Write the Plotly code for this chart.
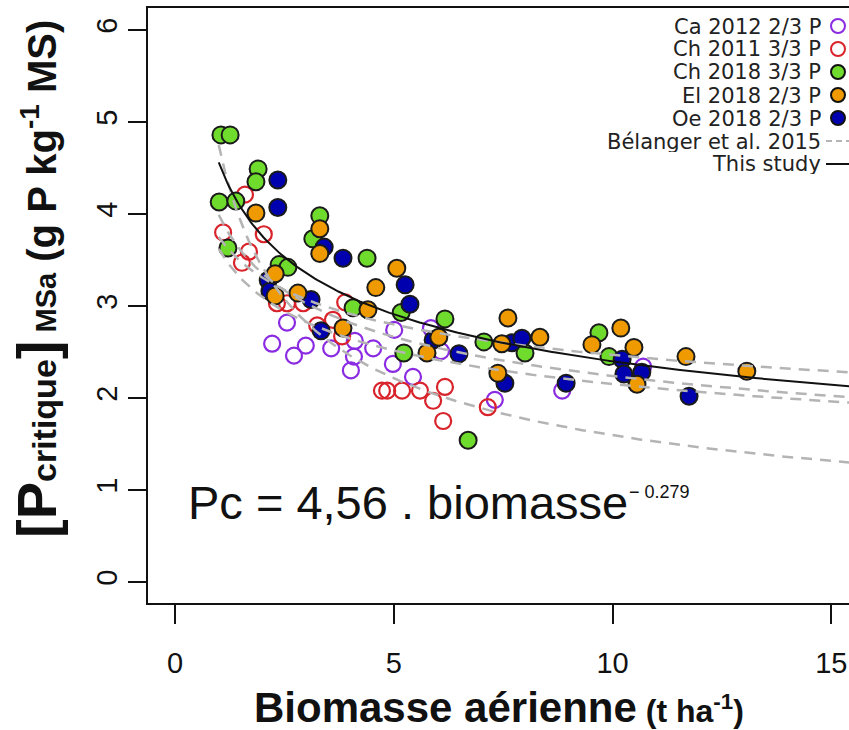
import numpy as np
import plotly.graph_objects as go

# ---- observations: aerial biomass (t/ha) and critical P concentration (g P/kg DM)
ca2012_x = [2.22, 2.56, 2.72, 2.99, 3.57, 4.11, 4.09, 4.02, 4.53, 5.01, 4.98, 5.44, 5.85, 6.08, 7.31, 8.85, 10.70]
ca2012_y = [2.59, 2.82, 2.46, 2.57, 2.54, 2.62, 2.45, 2.30, 2.54, 2.74, 2.37, 2.23, 2.76, 2.51, 1.98, 2.08, 2.34]

ch2011_x = [1.60, 2.03, 1.10, 1.69, 1.53, 2.33, 2.56, 2.93, 3.89, 3.61, 3.25, 3.82, 4.73, 4.85, 5.19, 5.60, 6.17, 5.90, 6.13, 7.15]
ch2011_y = [4.21, 3.78, 3.80, 3.59, 3.47, 3.03, 3.03, 3.03, 3.04, 2.85, 2.79, 2.67, 2.08, 2.08, 2.08, 2.08, 2.12, 1.97, 1.75, 1.90]

ch2018_x = [1.05, 1.26, 1.90, 1.85, 1.01, 1.39, 1.21, 2.38, 2.58, 3.31, 3.15, 4.39, 4.07, 5.17, 6.17, 5.23, 7.06, 8.00, 9.69, 9.92, 6.70]
ch2018_y = [4.86, 4.86, 4.49, 4.35, 4.13, 4.14, 3.63, 3.45, 3.42, 3.98, 3.73, 3.52, 2.98, 2.93, 2.86, 2.49, 2.61, 2.49, 2.71, 2.45, 1.54]

oe2018_x = [2.35, 2.35, 3.41, 3.84, 2.13, 2.17, 3.11, 3.34, 5.26, 5.37, 5.90, 6.49, 7.70, 7.93, 7.54, 8.94, 10.22, 10.26, 10.67, 11.75]
oe2018_y = [4.37, 4.07, 3.64, 3.52, 3.28, 3.16, 3.07, 2.73, 3.23, 3.02, 2.63, 2.48, 2.60, 2.65, 2.16, 2.16, 2.42, 2.26, 2.28, 2.02]

el2018_x = [1.85, 3.31, 3.31, 2.29, 2.29, 2.81, 4.59, 5.07, 4.41, 3.84, 6.03, 5.76, 7.61, 7.47, 8.34, 7.38, 9.53, 10.19, 10.49, 10.56, 11.68, 13.07]
el2018_y = [4.01, 3.84, 3.57, 3.35, 3.11, 3.14, 3.20, 3.41, 2.96, 2.76, 2.66, 2.49, 2.87, 2.59, 2.66, 2.27, 2.58, 2.76, 2.55, 2.15, 2.45, 2.29]

# ---- dilution curves Pc = a * W^-b
this_study = (4.56, 0.279)
belanger_a = [3.75, 3.99, 3.62, 4.75]
belanger_b = [0.182, 0.251, 0.226, 0.474]

legend_labels = ["Ca 2012 2/3 P", "Ch 2011 3/3 P", "Ch 2018 3/3 P", "El 2018 2/3 P",
                 "Oe 2018 2/3 P", "Bélanger et al. 2015", "This study"]

x_ticks = [0, 5, 10, 15]
y_ticks = [0, 1, 2, 3, 4, 5, 6]

PURPLE = "#8A2BE2"
RED = "#D9232B"
GREEN = "#6FDB2C"
ORANGE = "#EE9A00"
BLUE = "#0000AE"
DASH_GREY = "#B4B4B4"

W, H = 849, 730
L, R, T, B = 148, 0, 8, 127

fig = go.Figure()


def open_pts(x, y, color):
    fig.add_trace(go.Scatter(
        x=x, y=y, mode="markers", showlegend=False, hoverinfo="skip",
        marker=dict(symbol="circle-open", size=16, color=color,
                    line=dict(width=2.2, color=color))))


def filled_pts(x, y, color):
    fig.add_trace(go.Scatter(
        x=x, y=y, mode="markers", showlegend=False, hoverinfo="skip",
        marker=dict(symbol="circle", size=17, color=color,
                    line=dict(width=2, color="#1a1a1a"))))


open_pts(ca2012_x, ca2012_y, PURPLE)
open_pts(ch2011_x, ch2011_y, RED)
filled_pts(ch2018_x, ch2018_y, GREEN)
filled_pts(oe2018_x, oe2018_y, BLUE)
filled_pts(el2018_x, el2018_y, ORANGE)

xs = np.linspace(1.0, 15.6, 300)
for a, b in zip(belanger_a, belanger_b):
    fig.add_trace(go.Scatter(
        x=xs, y=a * xs ** (-b), mode="lines", showlegend=False, hoverinfo="skip",
        line=dict(color=DASH_GREY, width=2.5, dash="11px,8px")))

fig.add_trace(go.Scatter(
    x=xs, y=this_study[0] * xs ** (-this_study[1]), mode="lines",
    showlegend=False, hoverinfo="skip", line=dict(color="#111111", width=2)))

# ---- axes: box on left/top/bottom, R-style outside ticks
x0_px, px_per_x = 175, 43.75
y0_px, px_per_y = 582, 92.0
x_range = [-(x0_px - L) / px_per_x, (W - R - x0_px) / px_per_x]
y_range = [-((H - B) - y0_px) / px_per_y, (y0_px - T) / px_per_y]

tick_font = dict(family="Liberation Sans, Arial, sans-serif", size=29, color="#111")
fig.update_xaxes(range=x_range, tickvals=x_ticks, ticks="outside", ticklen=19,
                 tickwidth=1.6, tickcolor="#111", showline=True, linecolor="#111",
                 linewidth=1.6, mirror=True, showgrid=False, zeroline=False,
                 tickfont=tick_font, ticklabelstandoff=14)
fig.update_yaxes(range=y_range, tickvals=y_ticks, ticks="outside", ticklen=18,
                 tickwidth=1.6, tickcolor="#111", showline=True, linecolor="#111",
                 linewidth=1.6, showgrid=False, zeroline=False, tickangle=-90,
                 tickfont=tick_font, ticklabelstandoff=0)

# ---- legend drawn in the upper-right corner
pw, ph = W - L - R, H - T - B


def px_x(px):
    return (px - L) / pw


def px_y(py):
    return (H - B - py) / ph


shapes = []
annotations = []
row_y = [26, 49, 72, 95, 118, 141, 164]
marker_style = [(PURPLE, None), (RED, None), (GREEN, "#111"), (ORANGE, "#111"), (BLUE, "#111")]
for i, lab in enumerate(legend_labels):
    annotations.append(dict(
        x=px_x(823), y=px_y(row_y[i]), xref="paper", yref="paper",
        xanchor="right", yanchor="middle", showarrow=False, text=lab, height=21,
        font=dict(family="DejaVu Sans, Verdana, sans-serif", size=21, color="#222")))
for i, (col, edge) in enumerate(marker_style):
    shapes.append(dict(
        type="circle", xref="paper", yref="paper", xsizemode="pixel", ysizemode="pixel",
        xanchor=px_x(838), yanchor=px_y(row_y[i]), x0=-7, x1=7, y0=-7, y1=7,
        fillcolor=col if edge else "rgba(0,0,0,0)",
        line=dict(color=edge if edge else col, width=2)))
shapes.append(dict(type="line", xref="paper", yref="paper",
                   x0=px_x(826), x1=px_x(849), y0=px_y(row_y[5]), y1=px_y(row_y[5]),
                   line=dict(color=DASH_GREY, width=2, dash="6px,4px")))
shapes.append(dict(type="line", xref="paper", yref="paper",
                   x0=px_x(826), x1=px_x(849), y0=px_y(row_y[6]), y1=px_y(row_y[6]),
                   line=dict(color="#111", width=2)))

# ---- fitted equation
annotations.append(dict(
    x=px_x(186), y=px_y(521), xref="paper", yref="paper", xanchor="left", yanchor="bottom",
    showarrow=False, text="Pc = 4,56 . biomasse", yshift=-10,
    font=dict(family="Liberation Sans, Arial, sans-serif", size=47, color="#111")))
annotations.append(dict(
    x=px_x(627), y=px_y(492), xref="paper", yref="paper", xanchor="left", yanchor="middle",
    showarrow=False, text="− 0.279",
    font=dict(family="Liberation Sans, Arial, sans-serif", size=18, color="#111")))

# ---- axis titles
annotations.append(dict(
    x=px_x(499), y=px_y(707), xref="paper", yref="paper", xanchor="center", yanchor="middle",
    showarrow=False,
    text="<b>Biomasse aérienne<span style='font-size:32px'> (t ha<sup>-1</sup>)</span></b>",
    font=dict(family="Liberation Sans, Arial, sans-serif", size=42, color="#111")))
annotations.append(dict(
    x=px_x(36), y=px_y(279), xref="paper", yref="paper", xanchor="center", yanchor="middle",
    showarrow=False, textangle=-90,
    text=("<b><span style='font-size:56px'>[P</span><span style='font-size:34px'>critique</span>"
          "<span style='font-size:56px'>]</span><span style='font-size:29px'> MSa</span>"
          " (g P kg<sup>-1</sup> MS)</b>"),
    font=dict(family="Liberation Sans, Arial, sans-serif", size=40, color="#111")))

fig.update_layout(
    width=W, height=H, margin=dict(l=L, r=R, t=T, b=B, pad=0),
    plot_bgcolor="white", paper_bgcolor="white",
    shapes=shapes, annotations=annotations, showlegend=False)

fig.write_html("out.html")
